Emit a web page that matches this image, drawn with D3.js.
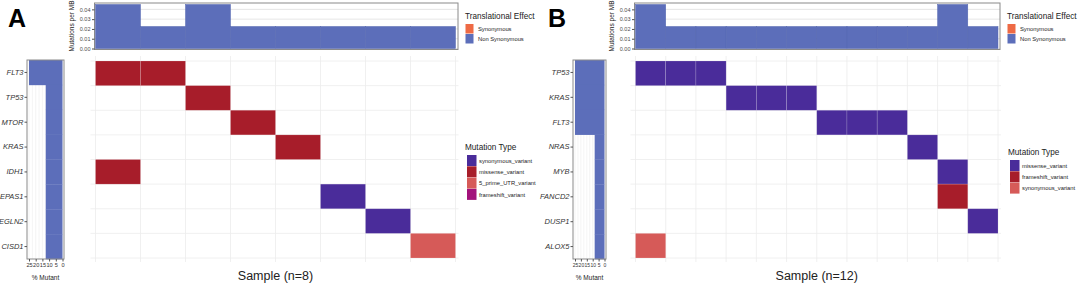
<!DOCTYPE html>
<html>
<head>
<meta charset="utf-8">
<script src="https://cdn.jsdelivr.net/npm/d3@7"></script>
<style>
  body { margin: 0; background: #fff; }
  svg { font-family: "Liberation Sans", Arial, sans-serif; }
</style>
</head>
<body>
<svg id="chart" width="1079" height="285"></svg>
<script>
// ---- data, panel A ----
const samplesA = ["S1", "S2", "S3", "S4", "S5", "S6", "S7", "S8"];
const tmbA = [0.045, 0.0225, 0.045, 0.0225, 0.0225, 0.0225, 0.0225, 0.0225];
const genesA = ["FLT3", "TP53", "MTOR", "KRAS", "IDH1", "EPAS1", "EGLN2", "CISD1"];
const mutantA = [25, 12.5, 12.5, 12.5, 12.5, 12.5, 12.5, 12.5];
const mutationsA = [
    ["S1", "FLT3", "missense_variant"],
    ["S2", "FLT3", "missense_variant"],
    ["S3", "TP53", "missense_variant"],
    ["S4", "MTOR", "missense_variant"],
    ["S5", "KRAS", "missense_variant"],
    ["S1", "IDH1", "missense_variant"],
    ["S6", "EPAS1", "synonymous_variant"],
    ["S7", "EGLN2", "synonymous_variant"],
    ["S8", "CISD1", "5_prime_UTR_variant"]
];
const typesA = ["synonymous_variant", "missense_variant", "5_prime_UTR_variant", "frameshift_variant"];
const typeColorsA = ["#4a2c9a", "#a71d2a", "#d65a58", "#a3127b"];

// ---- data, panel B ----
const samplesB = ["S1", "S2", "S3", "S4", "S5", "S6", "S7", "S8", "S9", "S10", "S11", "S12"];
const tmbB = [0.045, 0.0225, 0.0225, 0.0225, 0.0225, 0.0225, 0.0225, 0.0225, 0.0225, 0.0225, 0.045, 0.0225];
const genesB = ["TP53", "KRAS", "FLT3", "NRAS", "MYB", "FANCD2", "DUSP1", "ALOX5"];
const mutantB = [25, 25, 25, 8.33, 8.33, 8.33, 8.33, 8.33];
const mutationsB = [
    ["S1", "TP53", "missense_variant"],
    ["S2", "TP53", "missense_variant"],
    ["S3", "TP53", "missense_variant"],
    ["S4", "KRAS", "missense_variant"],
    ["S5", "KRAS", "missense_variant"],
    ["S6", "KRAS", "missense_variant"],
    ["S7", "FLT3", "missense_variant"],
    ["S8", "FLT3", "missense_variant"],
    ["S9", "FLT3", "missense_variant"],
    ["S10", "NRAS", "missense_variant"],
    ["S11", "MYB", "missense_variant"],
    ["S11", "FANCD2", "frameshift_variant"],
    ["S12", "DUSP1", "missense_variant"],
    ["S1", "ALOX5", "synonymous_variant"]
];
const typesB = ["missense_variant", "frameshift_variant", "synonymous_variant"];
const typeColorsB = ["#4a2c9a", "#a71d2a", "#d65a58"];

const effects = ["Synonymous", "Non Synonymous"];
const effectColors = ["#ee6a45", "#5c6eba"];
const tmbTicks = [0, 0.01, 0.02, 0.03, 0.04];
const mutantTicks = [25, 20, 15, 10, 5, 0];

const svg = d3.select("#chart");

const drawPanel = (cfg) => {
    const g = svg.append("g");

    // panel letter
    g.append("text")
        .attr("x", cfg.letterX).attr("y", 27)
        .attr("font-size", 25).attr("font-weight", "bold")
        .text(cfg.letter);

    // ---- top TMB bar chart ----
    const x = d3.scaleBand().domain(cfg.samples).range([cfg.hx0, cfg.hx1]);
    const yTop = d3.scaleLinear().domain([0, 0.046]).range([48.5, 3.5]);

    g.append("g").selectAll("line")
        .data(tmbTicks)
        .join("line")
        .attr("x1", cfg.tx0).attr("x2", cfg.tx1)
        .attr("y1", d => yTop(d)).attr("y2", d => yTop(d))
        .attr("stroke", "#dedede").attr("stroke-width", 0.8);

    g.append("g").selectAll("rect")
        .data(cfg.samples)
        .join("rect")
        .attr("x", d => x(d))
        .attr("width", x.bandwidth())
        .attr("y", (d, i) => yTop(cfg.tmb[i]))
        .attr("height", (d, i) => yTop(0) - yTop(cfg.tmb[i]))
        .attr("fill", effectColors[1])
        .attr("stroke", "#5466b0").attr("stroke-width", 0.5);

    g.append("rect")
        .attr("x", cfg.tx0).attr("y", 3)
        .attr("width", cfg.tx1 - cfg.tx0).attr("height", 46.5)
        .attr("fill", "none").attr("stroke", "#8a8a8a").attr("stroke-width", 1);

    const yAxis = g.append("g")
        .attr("transform", `translate(${cfg.tx0},0)`)
        .call(d3.axisLeft(yTop).tickValues(tmbTicks).tickFormat(d3.format(".2f")).tickSize(2.5).tickPadding(1.5));
    yAxis.select(".domain").remove();
    yAxis.selectAll("text").attr("font-size", 5.5).attr("fill", "#4d4d4d")
        .attr("font-family", "Liberation Sans, Arial, sans-serif");
    yAxis.selectAll("line").attr("stroke", "#4d4d4d");

    g.append("text")
        .attr("transform", `translate(${cfg.tx0 - 21},26) rotate(-90)`)
        .attr("text-anchor", "middle")
        .attr("font-size", 6.5).attr("fill", "#222")
        .text("Mutations per MB");

    // ---- heatmap ----
    const y = d3.scaleBand().domain(cfg.genes).range([61, 258]);
    const color = d3.scaleOrdinal().domain(cfg.types).range(cfg.typeColors);

    g.append("g").selectAll("line.v")
        .data(d3.range(cfg.samples.length + 1))
        .join("line")
        .attr("x1", i => cfg.hx0 + i * x.step()).attr("x2", i => cfg.hx0 + i * x.step())
        .attr("y1", 56).attr("y2", 262)
        .attr("stroke", "#ececec").attr("stroke-width", 0.8);
    g.append("g").selectAll("line.h")
        .data(d3.range(cfg.genes.length + 1))
        .join("line")
        .attr("x1", cfg.hx0 - 5).attr("x2", cfg.hx1 + 3)
        .attr("y1", i => 61 + i * y.step()).attr("y2", i => 61 + i * y.step())
        .attr("stroke", "#ececec").attr("stroke-width", 0.8);

    g.append("g").selectAll("rect")
        .data(cfg.mutations)
        .join("rect")
        .attr("x", d => x(d[0]))
        .attr("y", d => y(d[1]))
        .attr("width", x.bandwidth())
        .attr("height", y.bandwidth())
        .attr("fill", d => color(d[2]))
        .attr("stroke", "rgba(255,255,255,0.25)").attr("stroke-width", 0.6);

    g.append("text")
        .attr("x", (cfg.hx0 + cfg.hx1) / 2).attr("y", 280)
        .attr("text-anchor", "middle").attr("font-size", 12.5).attr("fill", "#222")
        .text(cfg.xTitle);

    // ---- left % mutant bars ----
    const xm = d3.scaleLinear().domain([0, 25]).range([cfg.lx1 - 1.5, cfg.lx0 + 2]);
    const ym = d3.scaleBand().domain(cfg.genes).range([60, 259]);

    g.append("g").selectAll("line")
        .data([2.5, 7.5, 12.5, 17.5, 22.5].concat(mutantTicks))
        .join("line")
        .attr("x1", d => xm(d)).attr("x2", d => xm(d))
        .attr("y1", 60).attr("y2", 259)
        .attr("stroke", "#ececec").attr("stroke-width", 0.6);

    g.append("g").selectAll("rect")
        .data(cfg.genes)
        .join("rect")
        .attr("x", (d, i) => xm(cfg.mutant[i]))
        .attr("width", (d, i) => xm(0) - xm(cfg.mutant[i]))
        .attr("y", d => ym(d))
        .attr("height", ym.bandwidth() + 0.3)
        .attr("fill", effectColors[1]);

    g.append("rect")
        .attr("x", cfg.lx0).attr("y", 60)
        .attr("width", cfg.lx1 - cfg.lx0).attr("height", 199)
        .attr("fill", "none").attr("stroke", "#8a8a8a").attr("stroke-width", 1);

    const gAxis = g.append("g")
        .attr("transform", `translate(${cfg.lx0},0)`)
        .call(d3.axisLeft(ym).tickSize(2.5).tickPadding(1));
    gAxis.select(".domain").remove();
    gAxis.selectAll("text").attr("font-size", 7.5).attr("font-style", "italic").attr("fill", "#333")
        .attr("font-family", "Liberation Sans, Arial, sans-serif");
    gAxis.selectAll("line").attr("stroke", "#555");

    const mAxis = g.append("g")
        .attr("transform", `translate(0,259)`)
        .call(d3.axisBottom(xm).tickValues(mutantTicks).tickSize(2.5).tickPadding(1.5));
    mAxis.select(".domain").remove();
    mAxis.selectAll("text").attr("font-size", cfg.mutFont).attr("fill", "#333")
        .attr("font-family", "Liberation Sans, Arial, sans-serif");
    mAxis.selectAll("line").attr("stroke", "#555");

    g.append("text")
        .attr("x", (cfg.lx0 + cfg.lx1) / 2).attr("y", 279.5)
        .attr("text-anchor", "middle").attr("font-size", 6.5).attr("fill", "#222")
        .text("% Mutant");

    // ---- legends ----
    const leg1 = g.append("g").attr("transform", `translate(${cfg.legX},0)`);
    leg1.append("text").attr("x", 0).attr("y", 19).attr("font-size", 8.2).attr("fill", "#222")
        .text("Translational Effect");
    effects.forEach((e, i) => {
        leg1.append("rect").attr("x", 0.5).attr("y", 24 + i * 10).attr("width", 8).attr("height", 9.5)
            .attr("fill", effectColors[i]);
        leg1.append("text").attr("x", 13).attr("y", 31 + i * 10).attr("font-size", 5.8).attr("fill", "#222")
            .text(e);
    });

    const leg2 = g.append("g").attr("transform", `translate(${cfg.legX2},${cfg.legY2})`);
    leg2.append("text").attr("x", 0).attr("y", 0).attr("font-size", 8.2).attr("fill", "#222")
        .text("Mutation Type");
    cfg.types.forEach((t, i) => {
        leg2.append("rect").attr("x", 2).attr("y", 5 + i * 11.3).attr("width", 9.5).attr("height", 11)
            .attr("fill", cfg.typeColors[i]);
        leg2.append("text").attr("x", 14).attr("y", 12.8 + i * 11.3).attr("font-size", 5.8).attr("fill", "#222")
            .text(t);
    });
};

drawPanel({
    letter: "A", letterX: 8,
    samples: samplesA, tmb: tmbA, genes: genesA, mutant: mutantA, mutations: mutationsA,
    types: typesA, typeColors: typeColorsA,
    tx0: 94.5, tx1: 458, hx0: 95.5, hx1: 455.5,
    lx0: 27, lx1: 64, mutFont: 5.6,
    legX: 465, legX2: 465, legY2: 150,
    xTitle: "Sample (n=8)"
});

drawPanel({
    letter: "B", letterX: 548,
    samples: samplesB, tmb: tmbB, genes: genesB, mutant: mutantB, mutations: mutationsB,
    types: typesB, typeColors: typeColorsB,
    tx0: 634.5, tx1: 1000, hx0: 635.5, hx1: 998,
    lx0: 573, lx1: 606, mutFont: 5,
    legX: 1007, legX2: 1008, legY2: 155,
    xTitle: "Sample (n=12)"
});
</script>
</body>
</html>
